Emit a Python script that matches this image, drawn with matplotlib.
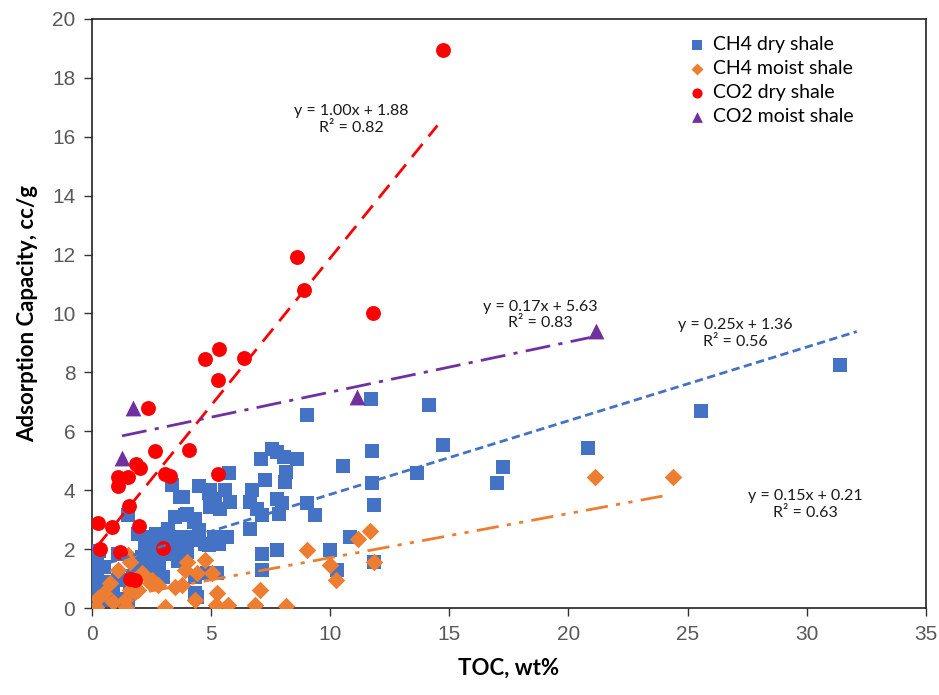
import matplotlib
matplotlib.use("Agg")
import matplotlib.pyplot as plt

# ---------------- data ----------------
ch4_dry_x = [31.4, 25.55, 20.8, 17.27, 17.0, 14.73, 14.13, 13.64, 11.72, 11.75, 11.75, 11.82, 11.82,
             10.53, 10.84, 10.0, 10.28, 9.02, 9.02, 9.34,
             7.55, 7.76, 8.04, 8.6, 7.08, 8.15, 8.08, 7.24, 6.71, 6.64, 6.92, 7.13, 7.76, 7.83, 7.97,
             6.64, 7.13, 7.76, 7.13,
             5.76, 4.47, 4.96, 5.59, 5.17, 5.8, 4.96, 5.38, 3.8, 3.97, 4.33, 4.47, 4.05, 5.1, 5.66,
             4.89, 5.31, 5.24, 4.82, 4.4,
             3.34, 3.7, 4.89, 1.53, 3.49, 3.91, 4.26, 3.2, 1.95, 2.51, 2.23, 2.79, 3.35, 4.75, 2.09,
             2.65, 3.2, 1.1, 0.2, 0.2, 0.2, 1.1, 1.39, 2.3, 3.0, 0.41, 0.83, 1.53, 1.6, 4.33, 4.33,
             2.7, 3.0, 3.5, 3.8, 4.2, 2.9, 3.6, 4.0, 2.4, 2.8, 3.6, 1.8, 1.7, 2.6, 0.5, 0.6, 0.9,
             1.2, 0.1, 0.15, 0.3]
ch4_dry_y = [8.24, 6.68, 5.42, 4.78, 4.24, 5.55, 6.88, 4.59, 7.1, 5.33, 4.23, 3.49, 1.57,
             4.82, 2.4, 1.97, 1.29, 6.54, 3.57, 3.15,
             5.41, 5.3, 5.13, 5.05, 5.05, 4.62, 4.28, 4.34, 4.0, 3.6, 3.36, 3.15, 3.72, 3.18, 3.57,
             2.68, 1.85, 1.97, 1.29,
             4.57, 4.14, 4.02, 4.0, 3.72, 3.6, 3.44, 3.38, 3.78, 3.21, 3.04, 2.64, 2.42, 2.42, 2.42,
             2.14, 2.19, 1.18, 1.18, 0.39,
             4.17, 3.78, 3.89, 3.15, 3.1, 3.15, 2.93, 2.7, 2.53, 2.42, 2.08, 2.08, 2.19, 2.19, 1.74,
             1.74, 1.85, 1.85, 1.63, 1.18, 0.72, 0.95, 0.95, 1.18, 1.07, 0.27, 0.27, 0.16, 0.5, 0.5, 1.07,
             2.5, 2.3, 2.4, 2.2, 2.3, 1.9, 1.9, 1.9, 1.5, 1.5, 1.6, 1.5, 1.1, 1.3, 1.4, 0.9, 0.5,
             0.3, 0.3, 1.4, 1.95]

ch4_moist_x = [24.37, 21.13, 11.68, 11.15, 11.82, 9.02, 10.0, 10.25, 8.15, 7.06, 6.85, 5.71, 5.2,
               5.24, 4.33, 3.97, 4.75, 5.03, 4.4, 3.91, 3.77,
               1.53, 1.6, 1.1, 2.09, 0.76, 1.67, 2.44, 2.79, 1.6, 1.95, 0.25, 0.17, 0.9, 1.39, 1.43,
               3.07, 2.5, 3.49, 1.8, 0.5]
ch4_moist_y = [4.44, 4.44, 2.62, 2.36, 1.57, 1.97, 1.46, 0.95, 0.07, 0.61, 0.1, 0.1, 0.1,
               0.5, 0.27, 1.57, 1.63, 1.18, 1.18, 1.29, 0.78,
               1.8, 1.57, 1.29, 1.18, 0.84, 0.84, 0.84, 0.78, 0.61, 0.61, 0.33, 0.05, 0.21, 0.27, 0.05,
               0.05, 0.95, 0.72, 0.55, 0.5]

co2_dry_x = [0.24, 0.34, 0.82, 1.1, 1.1, 1.53, 1.57, 1.83, 2.02, 1.99, 1.18, 2.36, 2.65, 2.97,
             3.07, 3.28, 4.05, 5.3, 1.6, 1.8, 4.75, 5.34, 5.28, 6.39, 8.6, 8.9, 11.8, 14.75]
co2_dry_y = [2.89, 1.99, 2.76, 4.45, 4.14, 4.45, 3.46, 4.9, 4.75, 2.79, 1.9, 6.79, 5.32, 2.04,
             4.54, 4.47, 5.36, 4.56, 1.0, 0.95, 8.47, 8.8, 7.73, 8.5, 11.9, 10.8, 10.0, 18.95]

co2_moist_x = [1.72, 1.26, 11.13, 21.17]
co2_moist_y = [6.78, 5.08, 7.15, 9.39]

# trend lines: slope, intercept, x-start, x-end, R2
fit_ch4_dry = (0.25, 1.36, 0.2, 32.1, 0.56)
fit_ch4_moist = (0.15, 0.21, 0.1, 24.2, 0.63)
fit_co2_dry = (1.00, 1.88, 0.2, 14.5, 0.82)
fit_co2_moist = (0.17, 5.63, 1.26, 20.9, 0.83)

x_ticks = [0, 5, 10, 15, 20, 25, 30, 35]
y_ticks = [0, 2, 4, 6, 8, 10, 12, 14, 16, 18, 20]

# ---------------- style ----------------
BLUE = "#4472C4"
ORANGE = "#ED7D31"
RED = "#FF0000"
PURPLE = "#7030A0"
TXT = ["Lato", "DejaVu Sans"]
NARROW = ["Liberation Sans Narrow", "Liberation Sans", "DejaVu Sans"]

fig = plt.figure(figsize=(9.39, 6.95), dpi=100)
ax = fig.add_axes([0.098, 0.125, 0.888, 0.848])

ax.scatter(ch4_dry_x, ch4_dry_y, marker="s", s=105, color=BLUE, linewidths=0, zorder=3,
           label="CH4 dry shale")
ax.scatter(ch4_moist_x, ch4_moist_y, marker="D", s=80, color=ORANGE, linewidths=0, zorder=4,
           label="CH4 moist shale")
ax.scatter(co2_dry_x, co2_dry_y, marker="o", s=115, color=RED, linewidths=0, zorder=5,
           label="CO2 dry shale")
ax.scatter(co2_moist_x, co2_moist_y, marker="^", s=130, color=PURPLE, linewidths=0, zorder=5,
           label="CO2 moist shale")


def trend(fit, color, ls):
    m, b, x0, x1, _ = fit
    ax.plot([x0, x1], [m * x0 + b, m * x1 + b], color=color, lw=2, linestyle=ls, zorder=6)


trend(fit_co2_dry, RED, (0, (6, 3.5)))
trend(fit_co2_moist, PURPLE, (0, (9, 3, 1.5, 3)))
trend(fit_ch4_dry, BLUE, (0, (3, 1.6)))
trend(fit_ch4_moist, ORANGE, (0, (8, 3, 1.5, 3, 1.5, 3)))


def eq_label(fit, x, y):
    m, b, _, _, r2 = fit
    ax.text(x, y, f"y = {m:.2f}x + {b:.2f}\nR² = {r2:.2f}", ha="center", va="center",
            fontsize=11.5, family=TXT, color="#1a1a1a", linespacing=1.25, zorder=7)


eq_label(fit_co2_dry, 10.9, 16.58)
eq_label(fit_co2_moist, 18.8, 9.95)
eq_label(fit_ch4_dry, 27.0, 9.33)
eq_label(fit_ch4_moist, 29.95, 3.52)

ax.set_xlim(0, 35)
ax.set_ylim(0, 20)
ax.set_xticks(x_ticks)
ax.set_yticks(y_ticks)
ax.set_xticklabels([str(t) for t in x_ticks], family=NARROW, fontsize=15, color="#595959")
ax.set_yticklabels([str(t) for t in y_ticks], family=NARROW, fontsize=15, color="#595959")
ax.tick_params(axis="both", direction="out", length=6, width=1, color="#333333", pad=6)

for sp in ax.spines.values():
    sp.set_color("#222222")
    sp.set_linewidth(1.2)

ax.set_xlabel("TOC, wt%", family=TXT, fontsize=16, fontweight="bold", labelpad=10)
ax.set_ylabel("Adsorption Capacity, cc/g", family=TXT, fontsize=16, fontweight="bold", labelpad=10)

leg = ax.legend(loc="upper left", bbox_to_anchor=(0.717, 0.97), frameon=False,
                prop={"family": TXT, "size": 14}, handletextpad=0.42, labelspacing=0.36,
                borderaxespad=0.0, borderpad=0.0, handlelength=0.75, markerscale=0.68)

fig.savefig("out.png", dpi=100)
